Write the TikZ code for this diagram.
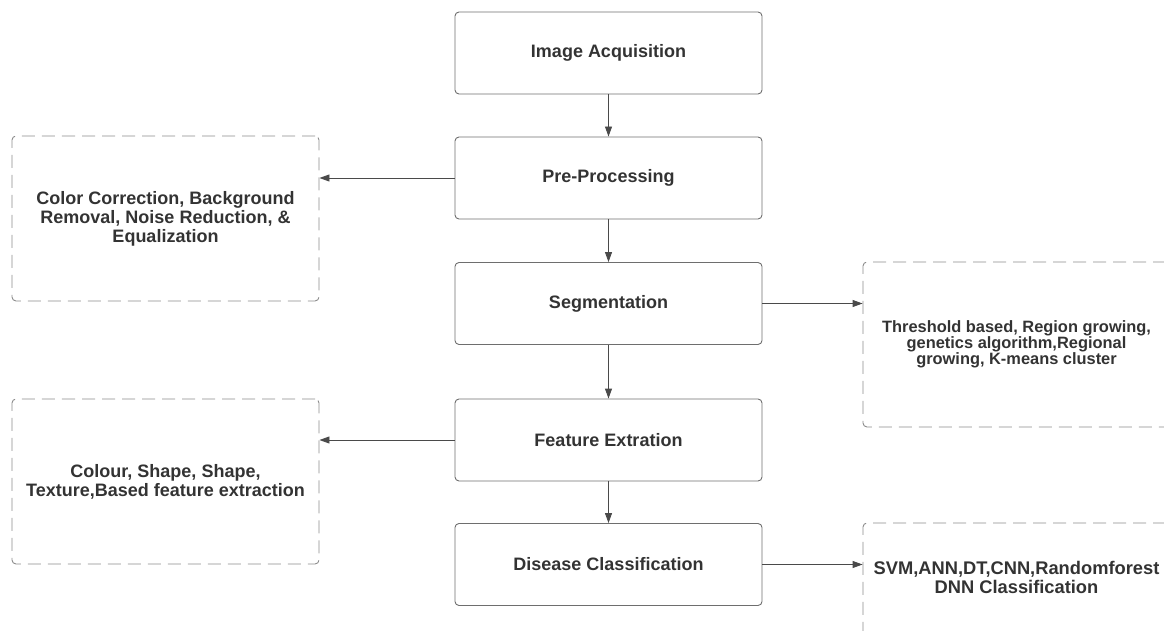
\documentclass[tikz,border=0pt]{standalone}
\usepackage{fontspec}
\setmainfont{Liberation Sans}
\usetikzlibrary{arrows.meta}
\definecolor{txtc}{HTML}{333333}
\definecolor{edgec}{HTML}{6E6E6E}
\definecolor{dashc}{HTML}{8C8C8C}
\definecolor{arrc}{HTML}{4A4A4A}
\tikzset{
  mainbox/.style={draw=edgec, line width=0.9bp, rounded corners=4bp, minimum width=307bp, minimum height=82bp, inner sep=0pt, text=txtc, font=\fontsize{18bp}{21bp}\selectfont\bfseries},
  dbox/.style={draw=dashc, line width=0.9bp, dash pattern=on 13bp off 7bp, rounded corners=4bp, minimum width=307bp, minimum height=165bp, inner sep=0pt, text=txtc, align=center, font=\fontsize{18bp}{19bp}\selectfont\bfseries},
  txtlab/.style={text=txtc, align=center, inner sep=0pt},
  conn/.style={draw=arrc, line width=0.9bp, -{Triangle[length=10bp, width=7bp]}}
}
\begin{document}
\begin{tikzpicture}[x=1bp,y=-1bp]
\useasboundingbox (0,0) rectangle (1164,631);
\clip (0,0) rectangle (1164,631);
% main flow
\node[mainbox] (ia) at (608.5,53) {Image Acquisition};
\node[mainbox] (pp) at (608.5,178) {Pre-Processing};
\node[mainbox] (sg) at (608.5,303.5) {Segmentation};
\node[mainbox] (fe) at (608.5,440) {Feature Extration};
\node[mainbox] (dc) at (608.5,564.5) {Disease Classification};
% side boxes
\node[dbox] (l1) at (165.5,218.5) {Color Correction, Background\\Removal, Noise Reduction, \&\\Equalization};
\node[dbox] (l2) at (165.5,481.5) {Colour, Shape, Shape,\\Texture,Based feature extraction};
\node[dbox, font=\fontsize{16.4bp}{15.8bp}\selectfont\bfseries] (r1) at (1016.5,344.5) {Threshold based, Region growing,\\genetics algorithm,Regional\\growing, K-means cluster};
\node[dbox] (r2) at (1016.5,605.5) {};
\node[txtlab, font=\fontsize{18.3bp}{19bp}\selectfont\bfseries] (r2t) at (1016.5,577) {SVM,ANN,DT,CNN,Randomforest\\DNN Classification};
% connectors
\draw[conn] (ia.south) -- (pp.north);
\draw[conn] (pp.south) -- (sg.north);
\draw[conn] (sg.south) -- (fe.north);
\draw[conn] (fe.south) -- (dc.north);
\draw[conn] (pp.west) -- (l1.east |- pp.west);
\draw[conn] (fe.west) -- (l2.east |- fe.west);
\draw[conn] (sg.east) -- (r1.west |- sg.east);
\draw[conn] (dc.east) -- (r2.west |- dc.east);
\end{tikzpicture}
\end{document}
